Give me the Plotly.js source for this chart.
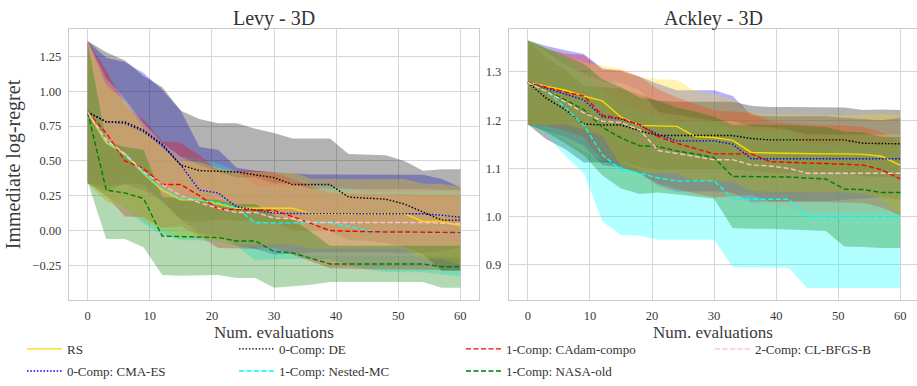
<!DOCTYPE html>
<html>
<head>
<meta charset="utf-8">
<script src="https://cdn.plot.ly/plotly-3.0.1.min.js"></script>
<style>html,body{margin:0;padding:0;background:#fff;}#chart{width:917px;height:386px;}</style>
</head>
<body>
<div id="chart"></div>
<script>
// ---------------- DATA ----------------
const evals = [0, 3, 6, 9, 12, 15, 18, 21, 24, 27, 30, 33, 36, 39, 42, 45, 48, 51, 54, 57, 60];
const methodNames = ['RS', '0-Comp: CMA-ES', '0-Comp: DE', '1-Comp: Nested-MC', '1-Comp: CAdam-compo', '1-Comp: NASA-old', '2-Comp: CL-BFGS-B'];
const subplotTitles = ['Levy - 3D', 'Ackley - 3D'];
const levyTicks = [-0.25, 0.0, 0.25, 0.5, 0.75, 1.0, 1.25];
const ackleyTicks = [0.9, 1.0, 1.1, 1.2, 1.3];
const evalTicks = [0, 10, 20, 30, 40, 50, 60];

// Levy - 3D : mean and half-width of band
const levy_RS        = [0.85,0.63,0.55,0.41,0.29,0.22,0.22,0.19,0.16,0.16,0.16,0.16,0.12,0.12,0.12,0.12,0.12,0.12,0.065,0.065,0.035];
const levy_RS_sd     = [0.51,0.42,0.38,0.33,0.30,0.28,0.27,0.26,0.26,0.26,0.26,0.26,0.25,0.25,0.25,0.25,0.25,0.25,0.27,0.27,0.28];
const levy_CMAES     = [0.85,0.78,0.77,0.71,0.61,0.47,0.29,0.27,0.17,0.15,0.125,0.122,0.122,0.122,0.122,0.122,0.122,0.122,0.12,0.11,0.095];
const levy_CMAES_sd  = [0.51,0.46,0.44,0.42,0.40,0.39,0.31,0.31,0.28,0.28,0.295,0.29,0.28,0.28,0.28,0.28,0.28,0.28,0.28,0.26,0.215];
const levy_DE        = [0.85,0.78,0.78,0.72,0.62,0.47,0.43,0.425,0.42,0.40,0.38,0.33,0.33,0.33,0.24,0.235,0.225,0.19,0.13,0.075,0.075];
const levy_DE_sd     = [0.51,0.50,0.44,0.39,0.41,0.39,0.37,0.345,0.35,0.33,0.32,0.33,0.33,0.33,0.31,0.31,0.315,0.31,0.30,0.365,0.365];
const levy_NMC       = [0.85,0.64,0.54,0.41,0.30,0.23,0.22,0.20,0.16,0.055,0.055,0.055,0.055,0.055,0.03,0.0,-0.01,-0.01,-0.01,-0.015,-0.02];
const levy_NMC_sd    = [0.50,0.40,0.38,0.36,0.33,0.30,0.29,0.28,0.27,0.27,0.26,0.26,0.26,0.26,0.27,0.28,0.29,0.29,0.29,0.30,0.31];
const levy_CAdam     = [0.85,0.70,0.50,0.445,0.33,0.33,0.25,0.155,0.15,0.15,0.145,0.10,0.05,0.0,-0.005,-0.01,-0.01,-0.01,-0.01,-0.012,-0.015];
const levy_CAdam_sd  = [0.51,0.45,0.40,0.35,0.31,0.30,0.29,0.28,0.28,0.28,0.27,0.27,0.27,0.27,0.27,0.27,0.27,0.27,0.27,0.27,0.27];
const levy_NASA      = [0.85,0.29,0.27,0.23,-0.04,-0.045,-0.048,-0.05,-0.075,-0.075,-0.15,-0.16,-0.20,-0.24,-0.24,-0.24,-0.24,-0.24,-0.24,-0.26,-0.26];
const levy_NASA_sd   = [0.50,0.35,0.33,0.35,0.28,0.28,0.275,0.27,0.265,0.265,0.26,0.24,0.19,0.13,0.13,0.13,0.13,0.13,0.13,0.15,0.15];
const levy_CLBFGS    = [0.85,0.65,0.55,0.42,0.33,0.25,0.20,0.16,0.13,0.13,0.09,0.085,0.058,0.058,0.058,0.058,0.058,0.058,0.058,0.052,0.047];
const levy_CLBFGS_sd = [0.51,0.44,0.40,0.35,0.30,0.28,0.27,0.26,0.25,0.25,0.25,0.25,0.24,0.24,0.24,0.24,0.24,0.24,0.24,0.24,0.24];

// Ackley - 3D : mean and half-width of band
const ackley_RS        = [1.278,1.27,1.262,1.25,1.24,1.206,1.189,1.188,1.187,1.166,1.164,1.158,1.133,1.132,1.131,1.13,1.13,1.13,1.129,1.125,1.106];
const ackley_RS_sd     = [0.087,0.08,0.07,0.07,0.073,0.10,0.10,0.097,0.097,0.094,0.09,0.085,0.08,0.08,0.08,0.08,0.08,0.08,0.082,0.088,0.104];
const ackley_CMAES     = [1.278,1.266,1.255,1.242,1.207,1.202,1.19,1.17,1.157,1.157,1.157,1.15,1.12,1.12,1.12,1.12,1.12,1.12,1.12,1.12,1.12];
const ackley_CMAES_sd  = [0.087,0.088,0.09,0.095,0.10,0.10,0.10,0.105,0.105,0.105,0.105,0.10,0.09,0.088,0.088,0.088,0.088,0.085,0.082,0.08,0.085];
const ackley_DE        = [1.278,1.245,1.222,1.192,1.19,1.19,1.178,1.168,1.168,1.168,1.168,1.168,1.162,1.159,1.159,1.159,1.159,1.159,1.152,1.152,1.151];
const ackley_DE_sd     = [0.087,0.085,0.082,0.08,0.078,0.076,0.075,0.072,0.07,0.07,0.07,0.07,0.068,0.068,0.068,0.068,0.068,0.067,0.069,0.07,0.07];
const ackley_NMC       = [1.278,1.26,1.226,1.19,1.128,1.097,1.09,1.08,1.074,1.074,1.074,1.038,1.036,1.036,1.036,1.0,1.0,1.0,1.0,1.0,1.0];
const ackley_NMC_sd    = [0.087,0.09,0.10,0.10,0.138,0.135,0.13,0.128,0.122,0.122,0.122,0.143,0.142,0.142,0.142,0.148,0.148,0.148,0.148,0.148,0.148];
const ackley_CAdam     = [1.278,1.268,1.258,1.25,1.21,1.204,1.19,1.166,1.152,1.141,1.13,1.13,1.13,1.114,1.112,1.111,1.11,1.109,1.107,1.097,1.078];
const ackley_CAdam_sd  = [0.087,0.08,0.08,0.085,0.095,0.10,0.10,0.098,0.095,0.093,0.09,0.088,0.085,0.083,0.082,0.08,0.08,0.08,0.079,0.078,0.076];
const ackley_NASA      = [1.278,1.262,1.242,1.222,1.185,1.163,1.147,1.145,1.136,1.13,1.122,1.083,1.083,1.083,1.082,1.08,1.078,1.057,1.056,1.05,1.05];
const ackley_NASA_sd   = [0.087,0.087,0.09,0.095,0.10,0.105,0.10,0.095,0.09,0.088,0.085,0.107,0.108,0.108,0.108,0.108,0.108,0.119,0.119,0.115,0.115];
const ackley_CLBFGS    = [1.278,1.26,1.238,1.215,1.198,1.195,1.18,1.137,1.131,1.125,1.118,1.118,1.107,1.105,1.1,1.09,1.09,1.09,1.09,1.09,1.09];
const ackley_CLBFGS_sd = [0.087,0.08,0.078,0.08,0.082,0.082,0.082,0.08,0.08,0.08,0.08,0.08,0.08,0.08,0.08,0.08,0.08,0.08,0.08,0.08,0.08];

// ---------------- STYLE ----------------
const FONT = '"Liberation Serif", "DejaVu Serif", serif';
const styles = [
  {color: '#FFD700', fill: 'rgba(255,215,0,0.3)',   dash: 'solid'},
  {color: '#0000FF', fill: 'rgba(0,0,255,0.3)',     dash: '1.5px,1.8px'},
  {color: '#000000', fill: 'rgba(0,0,0,0.3)',       dash: '1.5px,1.8px'},
  {color: '#00FFFF', fill: 'rgba(0,255,255,0.3)',   dash: '5px,2.5px'},
  {color: '#FF0000', fill: 'rgba(255,0,0,0.3)',     dash: '5px,2.5px'},
  {color: '#008000', fill: 'rgba(0,128,0,0.3)',     dash: '5px,2.5px'},
  {color: '#FFC0CB', fill: 'rgba(255,192,203,0.3)', dash: '5px,2.5px'}
];
// order in which the shaded bands are stacked (indices into methodNames)
const fillOrder = [1, 2, 3, 4, 6, 0, 5];
// legend column / row placement (pixels of line start, row centre)
const legendPos = [[25,356],[25,379],[237,356],[237,379],[464,356],[464,379],[713,356]];

const levyData = [[levy_RS,levy_RS_sd],[levy_CMAES,levy_CMAES_sd],[levy_DE,levy_DE_sd],[levy_NMC,levy_NMC_sd],[levy_CAdam,levy_CAdam_sd],[levy_NASA,levy_NASA_sd],[levy_CLBFGS,levy_CLBFGS_sd]];
const ackleyData = [[ackley_RS,ackley_RS_sd],[ackley_CMAES,ackley_CMAES_sd],[ackley_DE,ackley_DE_sd],[ackley_NMC,ackley_NMC_sd],[ackley_CAdam,ackley_CAdam_sd],[ackley_NASA,ackley_NASA_sd],[ackley_CLBFGS,ackley_CLBFGS_sd]];

const ML = 69, MT = 29, MB = 80, W = 917, H = 386;
const PW = W - ML, PH = H - MT - MB;

const traces = [];
function addPanel(data, xa, ya, withLegend) {
  fillOrder.forEach(i => {
    const mean = data[i][0], sd = data[i][1];
    const upper = mean.map((m, k) => m + sd[k]);
    const lower = mean.map((m, k) => m - sd[k]);
    traces.push({
      x: evals.concat(evals.slice().reverse()),
      y: upper.concat(lower.slice().reverse()),
      mode: 'lines', fill: 'toself', fillcolor: styles[i].fill,
      line: {width: 0}, hoverinfo: 'skip', showlegend: false,
      xaxis: xa, yaxis: ya
    });
  });
  data.forEach((d, i) => {
    const t = {
      x: evals, y: d[0], mode: 'lines', name: methodNames[i],
      line: {color: styles[i].color, width: 1.4, dash: styles[i].dash},
      xaxis: xa, yaxis: ya, showlegend: withLegend
    };
    if (withLegend) t.legend = i === 0 ? 'legend' : 'legend' + (i + 1);
    traces.push(t);
  });
}
addPanel(levyData, 'x', 'y', true);
addPanel(ackleyData, 'x2', 'y2', false);

const axisCommon = {
  showgrid: true, gridcolor: '#d6d6d6', gridwidth: 1,
  showline: true, linecolor: '#cccccc', linewidth: 1.2,
  zeroline: false, ticks: '', ticklabelstandoff: 4,
  tickfont: {family: FONT, size: 12.5, color: '#3a3a3a'}
};

const layout = {
  width: W, height: H,
  margin: {l: ML, r: 0, t: MT, b: MB, pad: 0},
  paper_bgcolor: '#ffffff', plot_bgcolor: '#ffffff',
  font: {family: FONT, color: '#333333'},
  xaxis: Object.assign({}, axisCommon, {
    domain: [0, 410 / PW], range: [-3, 63], tickvals: evalTicks, mirror: true, anchor: 'y',
    title: {text: 'Num. evaluations', font: {family: FONT, size: 17, color: '#3a3a3a'}, standoff: 2}
  }),
  yaxis: Object.assign({}, axisCommon, {
    domain: [0, 1], range: [-0.4986, 1.4466], tickvals: levyTicks, tickformat: '.2f', mirror: true, anchor: 'x',
    title: {text: 'Immediate log-regret', font: {family: FONT, size: 20, color: '#3a3a3a'}, standoff: 6}
  }),
  xaxis2: Object.assign({}, axisCommon, {
    domain: [440 / PW, 1], range: [-3.05, 62.7], tickvals: evalTicks, mirror: true, anchor: 'y2',
    title: {text: 'Num. evaluations', font: {family: FONT, size: 17, color: '#3a3a3a'}, standoff: 2}
  }),
  yaxis2: Object.assign({}, axisCommon, {
    domain: [0, 1], range: [0.827, 1.389], tickvals: ackleyTicks, tickformat: '.1f', mirror: false, anchor: 'x2'
  }),
  annotations: [
    {text: subplotTitles[0], xref: 'paper', yref: 'paper', x: (274 - ML) / PW, y: 1, xanchor: 'center', yanchor: 'bottom', yshift: -3, showarrow: false, font: {family: FONT, size: 20, color: '#333333'}},
    {text: subplotTitles[1], xref: 'paper', yref: 'paper', x: (713 - ML) / PW, y: 1, xanchor: 'center', yanchor: 'bottom', yshift: -3, showarrow: false, font: {family: FONT, size: 20, color: '#333333'}}
  ],
  showlegend: true
};

legendPos.forEach((p, i) => {
  const key = i === 0 ? 'legend' : 'legend' + (i + 1);
  layout[key] = {
    x: (p[0] - 3 - ML) / PW, y: (MT + PH - p[1]) / PH,
    xanchor: 'left', yanchor: 'middle', orientation: 'v',
    bgcolor: 'rgba(0,0,0,0)', borderwidth: 0, itemwidth: 35,
    font: {family: FONT, size: 13, color: '#333333'}
  };
});

Plotly.newPlot('chart', traces, layout, {staticPlot: true, displayModeBar: false});
</script>
</body>
</html>
